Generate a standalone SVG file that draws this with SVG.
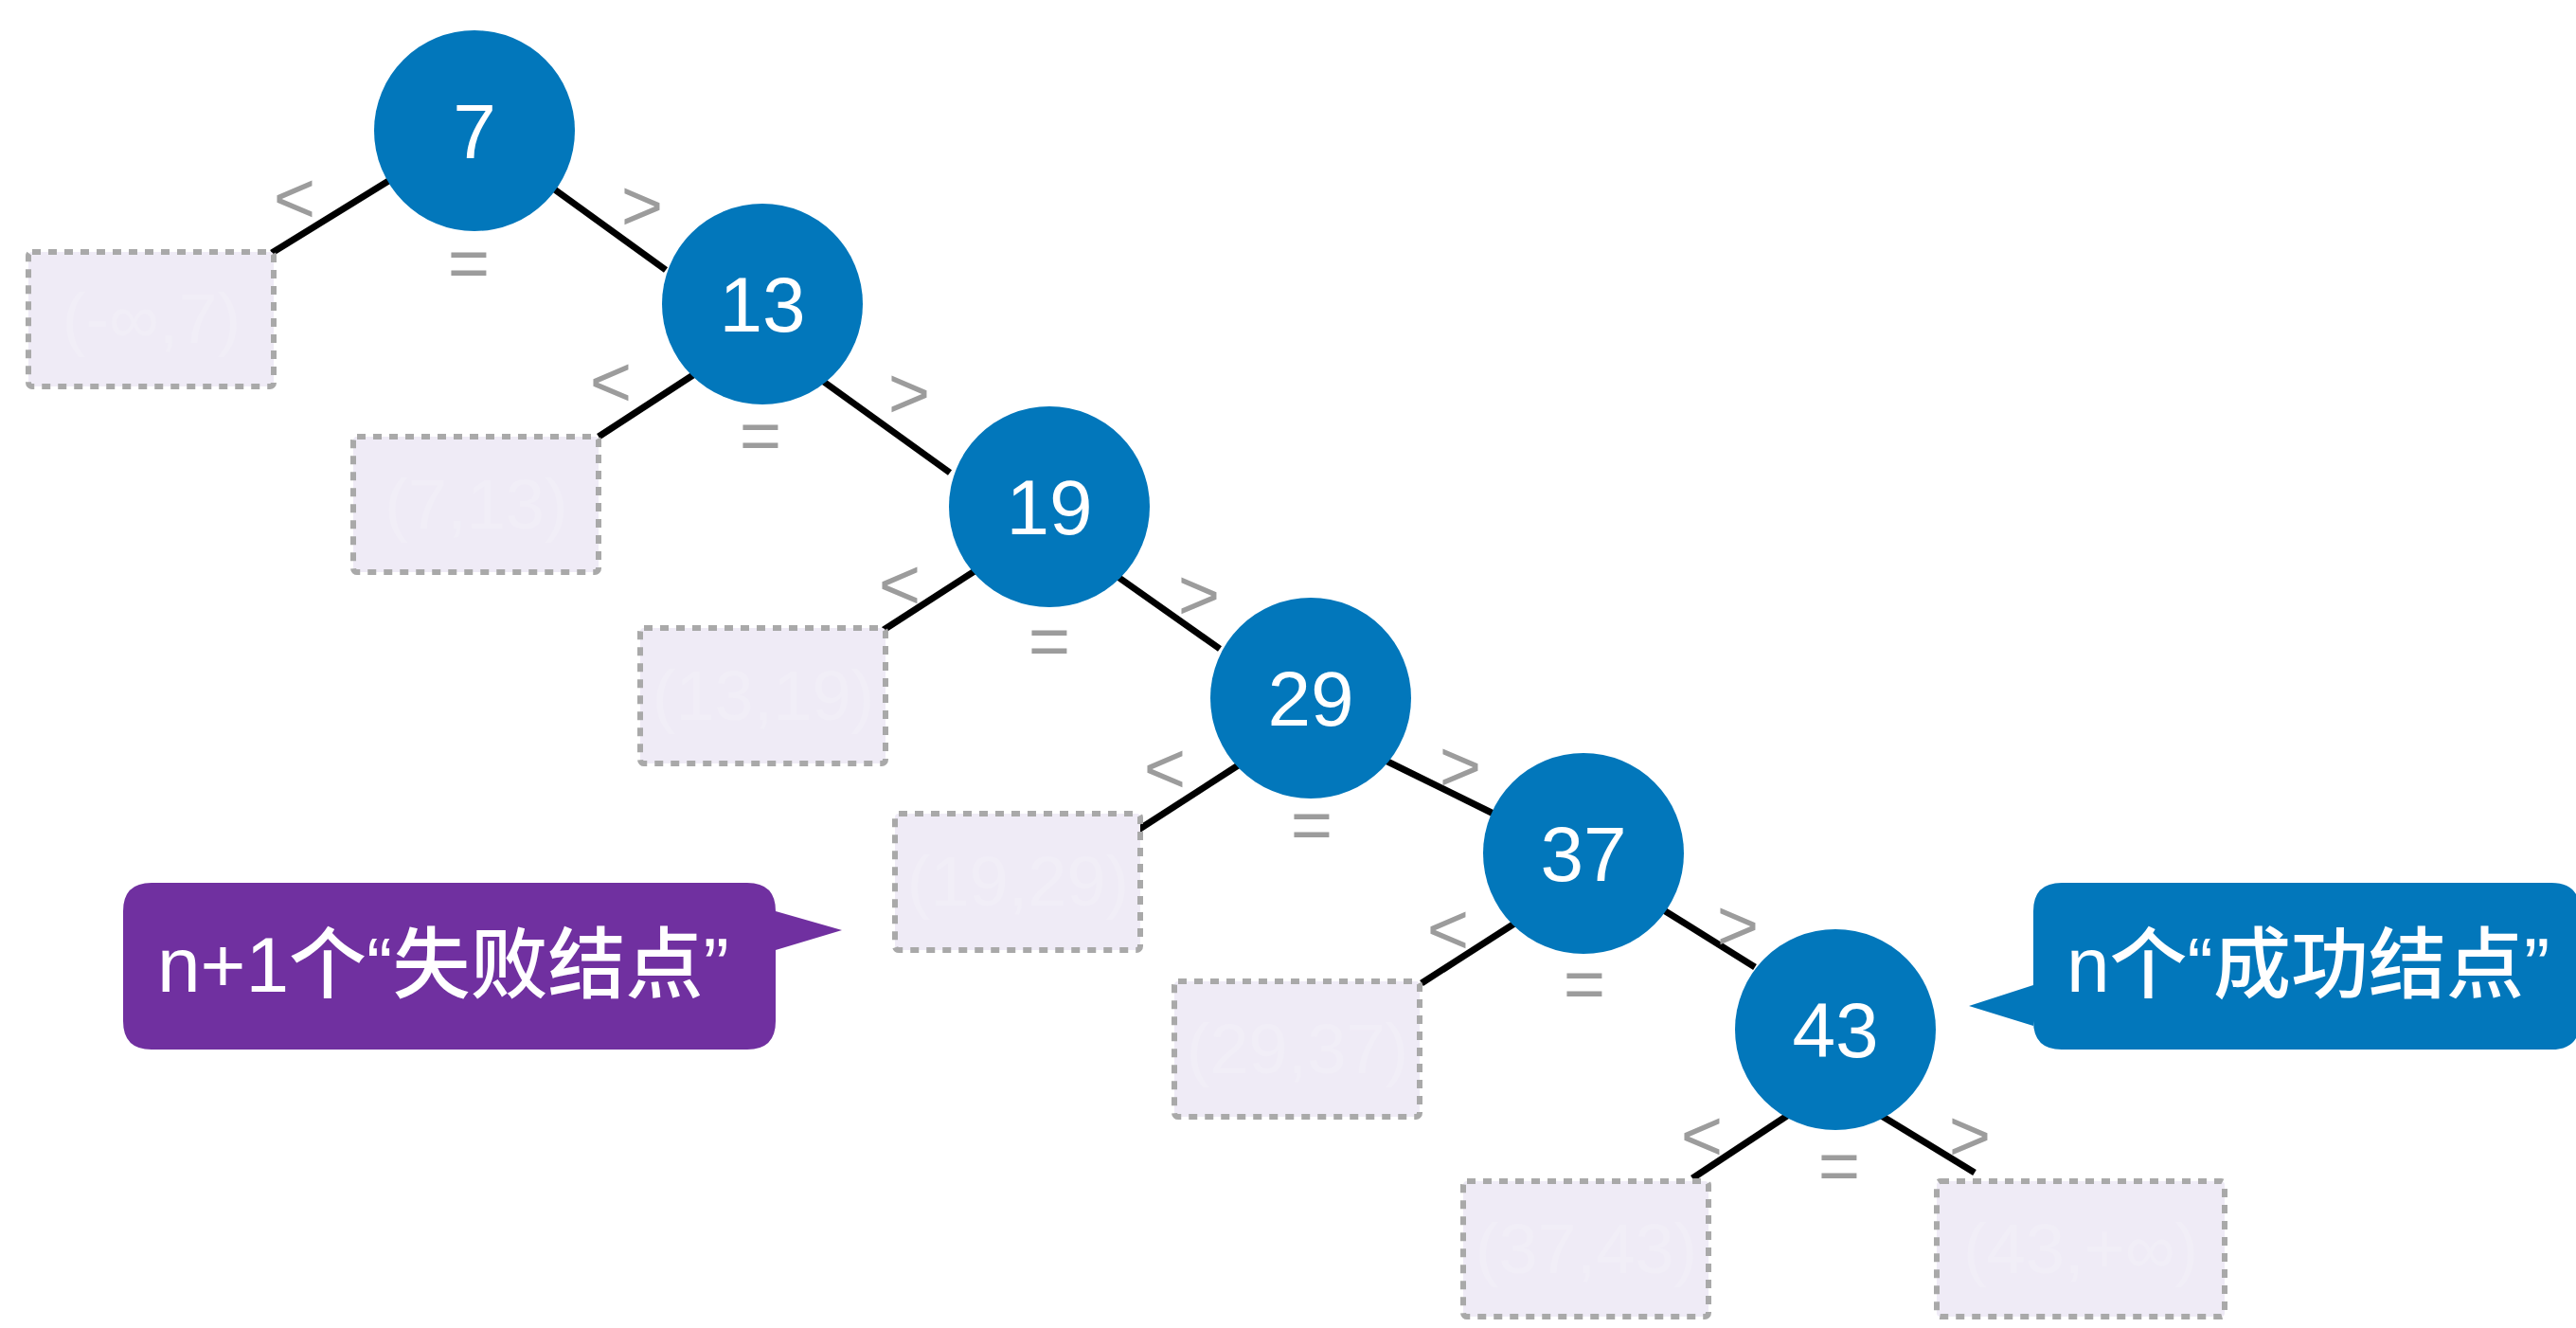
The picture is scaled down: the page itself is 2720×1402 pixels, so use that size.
<svg xmlns="http://www.w3.org/2000/svg" width="2720" height="1402" viewBox="0 0 2720 1402">
<style>
.bg{fill:#ffffff}
.edge{stroke:#000000;stroke-width:7;stroke-linecap:butt;fill:none}
.node circle{fill:#0277bb}
.num{font-family:"Liberation Sans",Arial,sans-serif;font-size:82px;fill:#ffffff;text-anchor:middle}
.fail rect{fill:#efebf6;stroke:#a9a9a9;stroke-width:6;stroke-dasharray:9 8}
.ghost{font-family:"Liberation Sans",Arial,sans-serif;font-size:74px;fill:#f1eef7;text-anchor:middle}
.op{font-family:"Liberation Sans",Arial,sans-serif;font-size:76px;fill:#9c9c9c;text-anchor:middle}
.call{font-family:"Liberation Sans","Noto Sans CJK SC",sans-serif;font-weight:500;font-size:82px;fill:#ffffff}
</style>
<rect class="bg" x="0" y="0" width="2720" height="1402"/>

<g id="connectors">
<line class="edge" x1="420" y1="185" x2="287" y2="267"/>
<line class="edge" x1="580" y1="196" x2="703" y2="285"/>
<line class="edge" x1="741" y1="390" x2="632" y2="461"/>
<line class="edge" x1="867" y1="401" x2="1003" y2="499"/>
<line class="edge" x1="1043" y1="594" x2="933" y2="665"/>
<line class="edge" x1="1169" y1="601" x2="1288" y2="685"/>
<line class="edge" x1="1312" y1="805" x2="1202" y2="876"/>
<line class="edge" x1="1457" y1="800" x2="1577" y2="859"/>
<line class="edge" x1="1610" y1="968" x2="1501" y2="1038"/>
<line class="edge" x1="1752" y1="958" x2="1853" y2="1021"/>
<line class="edge" x1="1896" y1="1172" x2="1787" y2="1244"/>
<line class="edge" x1="1985" y1="1177" x2="2085" y2="1238"/>
</g>

<g id="op-labels">
<text class="op" x="311" y="235">&lt;</text>
<text class="op" x="678" y="243">&gt;</text>
<text class="op" x="495" y="304">=</text>
<text class="op" x="645" y="429">&lt;</text>
<text class="op" x="960" y="441">&gt;</text>
<text class="op" x="803" y="486">=</text>
<text class="op" x="950" y="643">&lt;</text>
<text class="op" x="1266" y="654">&gt;</text>
<text class="op" x="1108" y="703">=</text>
<text class="op" x="1230" y="837">&lt;</text>
<text class="op" x="1542" y="835">&gt;</text>
<text class="op" x="1385" y="897">=</text>
<text class="op" x="1529" y="1007">&lt;</text>
<text class="op" x="1835" y="1003">&gt;</text>
<text class="op" x="1673" y="1065">=</text>
<text class="op" x="1797" y="1225">&lt;</text>
<text class="op" x="2080" y="1225">&gt;</text>
<text class="op" x="1942" y="1257">=</text>
</g>

<g id="node-7" class="node"><circle cx="501" cy="138" r="106"/><text class="num" x="501" y="167">7</text></g>
<g id="node-13" class="node"><circle cx="805" cy="321" r="106"/><text class="num" x="805" y="350">13</text></g>
<g id="node-19" class="node"><circle cx="1108" cy="535" r="106"/><text class="num" x="1108" y="564">19</text></g>
<g id="node-29" class="node"><circle cx="1384" cy="737" r="106"/><text class="num" x="1384" y="766">29</text></g>
<g id="node-37" class="node"><circle cx="1672" cy="901" r="106"/><text class="num" x="1672" y="930">37</text></g>
<g id="node-43" class="node"><circle cx="1938" cy="1087" r="106"/><text class="num" x="1938" y="1116">43</text></g>

<g id="fail-1" class="fail"><rect x="30" y="266" width="259" height="142" rx="4"/><text class="ghost" x="160" y="362">(-∞,7)</text></g>
<g id="fail-2" class="fail"><rect x="373" y="461" width="259" height="143" rx="4"/><text class="ghost" x="503" y="558">(7,13)</text></g>
<g id="fail-3" class="fail"><rect x="676" y="663" width="259" height="143" rx="4"/><text class="ghost" x="806" y="760">(13,19)</text></g>
<g id="fail-4" class="fail"><rect x="945" y="859" width="259" height="144" rx="4"/><text class="ghost" x="1075" y="956">(19,29)</text></g>
<g id="fail-5" class="fail"><rect x="1240" y="1036" width="259" height="143" rx="4"/><text class="ghost" x="1370" y="1133">(29,37)</text></g>
<g id="fail-6" class="fail"><rect x="1545" y="1247" width="259" height="143" rx="4"/><text class="ghost" x="1675" y="1344">(37,43)</text></g>
<g id="fail-7" class="fail"><rect x="2045" y="1247" width="304" height="143" rx="4"/><text class="ghost" x="2197" y="1344">(43,+∞)</text></g>

<g id="callout-fail">
<path d="M160,932 H789 Q819,932 819,962 L889,982 L819,1003 V1078 Q819,1108 789,1108 H160 Q130,1108 130,1078 V962 Q130,932 160,932 Z" fill="#7030a0"/>
<text class="call" x="166" y="1047">n+1个“失败结点”</text>
</g>
<g id="callout-success">
<path d="M2177,932 H2694 Q2724,932 2724,962 V1078 Q2724,1108 2694,1108 H2177 Q2147,1108 2147,1078 V1083 L2079,1062 L2147,1040 V962 Q2147,932 2177,932 Z" fill="#0277bb"/>
<text class="call" x="2182" y="1047">n个“成功结点”</text>
</g>
</svg>
